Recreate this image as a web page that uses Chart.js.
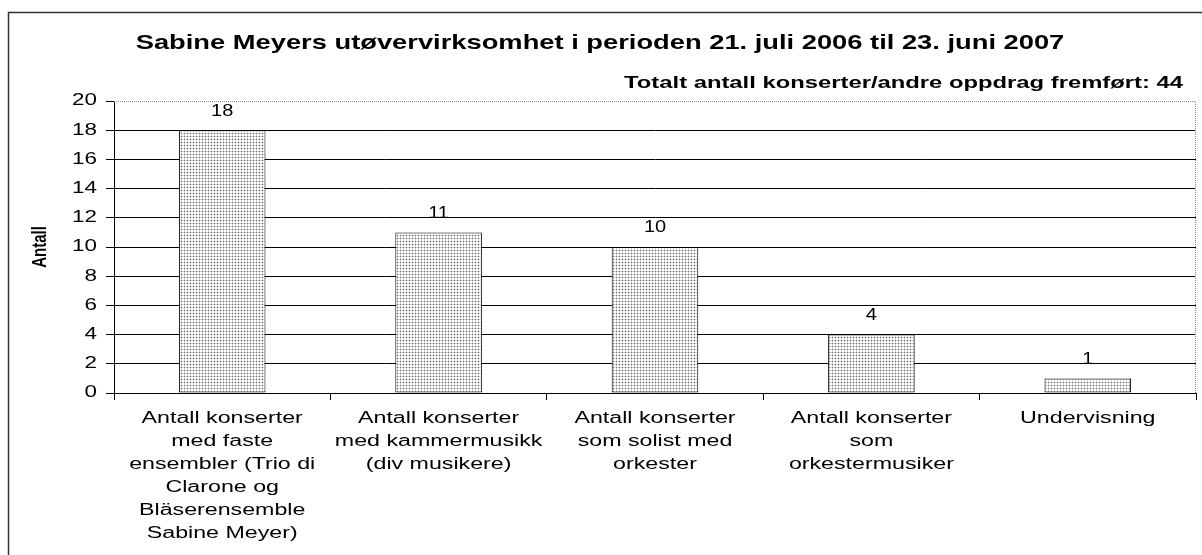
<!DOCTYPE html>
<html>
<head>
<meta charset="utf-8">
<script src="https://cdn.jsdelivr.net/npm/chart.js@4.4.1/dist/chart.umd.min.js"></script>
<style>
  html, body { margin: 0; padding: 0; background: #fff; }
  #wrap { width: 1202px; height: 555px; }
</style>
</head>
<body>
<div id="wrap"><canvas id="MyChart" width="1202" height="555"></canvas></div>
<script>
var chartTitle = 'Sabine Meyers utøvervirksomhet i perioden 21. juli 2006 til 23. juni 2007';
var totalText = 'Totalt antall konserter/andre oppdrag fremført: 44';
var yTitle = 'Antall';
var labels = [
    ['Antall konserter', 'med faste', 'ensembler (Trio di', 'Clarone og', 'Bläserensemble', 'Sabine Meyer)'],
    ['Antall konserter', 'med kammermusikk', '(div musikere)'],
    ['Antall konserter', 'som solist med', 'orkester'],
    ['Antall konserter', 'som', 'orkestermusiker'],
    ['Undervisning']
];
var counts = [18, 11, 10, 4, 1];
var yTicks = [0, 2, 4, 6, 8, 10, 12, 14, 16, 18, 20];

var FONT = 'Arial, "Liberation Sans", sans-serif';

// dotted grey fill like the old spreadsheet bars
function makePattern() {
    var p = document.createElement('canvas');
    p.width = 3; p.height = 3;
    var c = p.getContext('2d');
    c.fillStyle = '#ffffff';
    c.fillRect(0, 0, 3, 3);
    c.fillStyle = '#d4d4d4';
    c.fillRect(1, 0, 1, 3);
    c.fillRect(0, 1, 3, 1);
    c.fillStyle = '#707070';
    c.fillRect(1, 1, 1, 1);
    return c.createPattern(p, 'repeat');
}

// the original picture is stretched sideways, so text is drawn wide
function wideText(ctx, text, x, y, sx) {
    ctx.save();
    ctx.translate(x, y);
    ctx.scale(sx, 1);
    ctx.fillText(text, 0, 0);
    ctx.restore();
}

var framePlugin = {
    id: 'frame',
    beforeDraw: function (chart) {
        var ctx = chart.ctx;
        ctx.save();
        ctx.strokeStyle = '#333';
        ctx.lineWidth = 1.5;
        ctx.beginPath();
        ctx.moveTo(8.5, 555);
        ctx.lineTo(8.5, 12.5);
        ctx.lineTo(1202, 12.5);
        ctx.stroke();

        ctx.fillStyle = '#000';
        ctx.textBaseline = 'middle';
        ctx.font = 'bold 21px ' + FONT;
        ctx.textAlign = 'center';
        wideText(ctx, chartTitle, 600, 43, 1.3);
        ctx.font = 'bold 17px ' + FONT;
        ctx.textAlign = 'right';
        wideText(ctx, totalText, 1183, 83, 1.4);

        // y axis title
        ctx.font = 'bold 15px ' + FONT;
        ctx.textAlign = 'center';
        ctx.translate(41, 247);
        ctx.rotate(-Math.PI / 2);
        ctx.scale(1, 1.3);
        ctx.fillText(yTitle, 0, 0);
        ctx.restore();
    },
    beforeDatasetsDraw: function (chart) {
        var a = chart.chartArea;
        var ctx = chart.ctx;
        ctx.save();
        ctx.strokeStyle = '#888';
        ctx.lineWidth = 1;
        ctx.setLineDash([1, 1]);
        ctx.beginPath();
        ctx.moveTo(a.left, a.top + 0.5);
        ctx.lineTo(a.right - 0.5, a.top + 0.5);
        ctx.lineTo(a.right - 0.5, a.bottom);
        ctx.stroke();
        ctx.restore();
    },
    afterDatasetsDraw: function (chart) {
        var ctx = chart.ctx;
        var meta = chart.getDatasetMeta(0);
        ctx.save();
        ctx.fillStyle = '#000';
        ctx.font = '16px ' + FONT;
        ctx.textAlign = 'center';
        ctx.textBaseline = 'middle';
        meta.data.forEach(function (bar, i) {
            wideText(ctx, String(counts[i]), bar.x, bar.y - 19, 1.25);
        });
        ctx.restore();
    },
    afterDraw: function (chart) {
        var ctx = chart.ctx;
        var xs = chart.scales.x;
        var ys = chart.scales.y;
        ctx.save();
        ctx.fillStyle = '#000';
        ctx.font = '16px ' + FONT;
        ctx.textBaseline = 'middle';

        ctx.textAlign = 'right';
        yTicks.forEach(function (v) {
            wideText(ctx, String(v), ys.right - 17, ys.getPixelForValue(v), 1.4);
        });

        ctx.textAlign = 'center';
        labels.forEach(function (lines, i) {
            var x = xs.getPixelForValue(i);
            lines.forEach(function (line, k) {
                wideText(ctx, line, x, xs.top + 26 + k * 23, 1.45);
            });
        });
        ctx.restore();
    }
};

var ctx = document.getElementById('MyChart').getContext('2d');
var MyChart = new Chart(ctx, {
    type: 'bar',
    data: {
        labels: labels,
        datasets: [{
            label: 'Antall',
            data: counts,
            backgroundColor: makePattern(),
            borderColor: '#000',
            borderWidth: 1,
            borderSkipped: false,
            categoryPercentage: 1,
            barPercentage: 0.4
        }]
    },
    options: {
        responsive: false,
        animation: false,
        devicePixelRatio: 1,
        layout: { padding: { left: 0, top: 101, right: 6, bottom: 0 } },
        plugins: {
            legend: { display: false },
            tooltip: { enabled: false }
        },
        scales: {
            x: {
                afterFit: function (s) { s.height = 162; },
                grid: {
                    offset: true,
                    drawOnChartArea: false,
                    drawTicks: true,
                    tickLength: 7,
                    tickColor: '#000',
                    color: '#000'
                },
                border: { color: '#000', width: 1 },
                ticks: { display: false, autoSkip: false }
            },
            y: {
                min: 0,
                max: 20,
                afterFit: function (s) { s.width = 114; },
                afterBuildTicks: function (s) {
                    s.ticks = yTicks.map(function (v) { return { value: v }; });
                },
                grid: {
                    color: function (c) {
                        return (c.tick && c.tick.value === 20) ? 'rgba(0,0,0,0)' : '#000';
                    },
                    tickColor: '#000',
                    tickLength: 8,
                    lineWidth: 1
                },
                border: { color: '#000', width: 1 },
                ticks: { display: false }
            }
        }
    },
    plugins: [framePlugin]
});
</script>
</body>
</html>
